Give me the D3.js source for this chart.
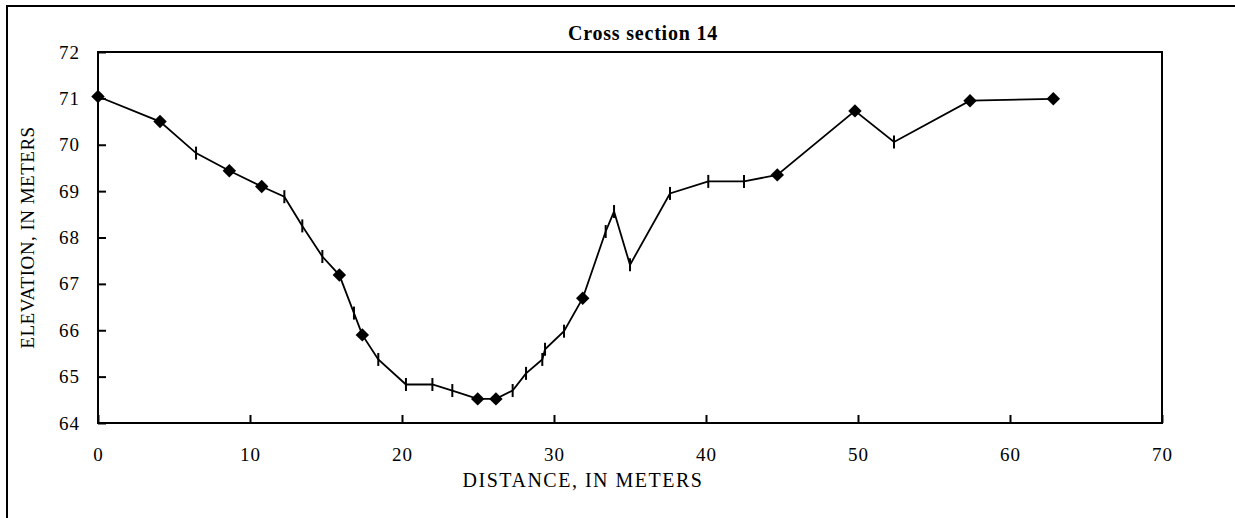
<!DOCTYPE html>
<html>
<head>
<meta charset="utf-8">
<script src="https://cdn.jsdelivr.net/npm/d3@7"></script>
<style>
  html, body { margin: 0; padding: 0; background: #fff; overflow: hidden; }
  svg { display: block; }
  text { font-family: "Liberation Serif", "Times New Roman", serif; fill: #000; }
</style>
</head>
<body>
<svg id="chart" width="1235" height="518"></svg>
<script>
// ---- data ----
const distance = [0, 4.08, 6.45, 8.64, 10.77, 12.26, 13.44, 14.76, 15.88, 16.84, 17.39, 18.44,
  20.26, 22.0, 23.31, 24.98, 26.18, 27.28, 28.16, 29.23, 29.41, 30.66, 31.89, 33.40, 33.95,
  35.0, 37.63, 40.15, 42.5, 44.69, 49.80, 52.37, 57.37, 62.85];
const elevation = [71.04, 70.50, 69.82, 69.44, 69.10, 68.88, 68.25, 67.59, 67.19, 66.37, 65.90, 65.37,
  64.83, 64.83, 64.70, 64.52, 64.52, 64.70, 65.07, 65.37, 65.59, 65.98, 66.69, 68.13, 68.56,
  67.41, 68.95, 69.21, 69.21, 69.35, 70.73, 70.06, 70.95, 70.99];
// marker type per point: "d" = diamond, "t" = vertical tick
const marker = ["d","d","t","d","d","t","t","t","d","t","d","t",
  "t","t","t","d","d","t","t","t","t","t","d","t","t",
  "t","t","t","t","d","d","t","d","d"];
const xTicks = [0, 10, 20, 30, 40, 50, 60, 70];
const yTicks = [64, 65, 66, 67, 68, 69, 70, 71, 72];
const titleText = "Cross section 14";
const xLabel = "DISTANCE, IN METERS";
const yLabel = "ELEVATION, IN METERS";

const points = distance.map((d, i) => ({ x: d, y: elevation[i], m: marker[i] }));

const svg = d3.select("#chart");
const L = 98, R = 1162, T = 52, B = 423;
const x = d3.scaleLinear().domain([0, 70]).range([L, R]);
const y = d3.scaleLinear().domain([64, 72]).range([B, T]);

// outer chart frame (only top and left edges fall inside the window)
svg.append("line").attr("x1", 6).attr("x2", 1235).attr("y1", 6).attr("y2", 6)
  .attr("stroke", "#000").attr("stroke-width", 2);
svg.append("line").attr("x1", 7).attr("x2", 7).attr("y1", 5).attr("y2", 518)
  .attr("stroke", "#000").attr("stroke-width", 2);

// title
svg.append("text").attr("x", 643).attr("y", 40).attr("text-anchor", "middle")
  .style("font-weight", "bold").style("font-size", "20px").style("letter-spacing", "0.8px")
  .text(titleText);

// axes
const xAxis = d3.axisBottom(x).tickValues(xTicks).tickSize(-8).tickPadding(25).tickFormat(d3.format("d"));
const gx = svg.append("g").attr("transform", `translate(0,${B})`).call(xAxis);
const yAxis = d3.axisLeft(y).tickValues(yTicks).tickSize(-8).tickPadding(18).tickFormat(d3.format("d"));
const gy = svg.append("g").attr("transform", `translate(${L},0)`).call(yAxis);
[gx, gy].forEach(g => {
  g.attr("font-family", null).attr("font-size", null);
  g.select(".domain").remove();
  g.selectAll(".tick line").attr("stroke", "#000").attr("stroke-width", 2);
  g.selectAll(".tick text").style("font-size", "19px").style("letter-spacing", "1px");
});

// plot frame
svg.append("rect").attr("x", L).attr("y", T).attr("width", R - L).attr("height", B - T)
  .attr("fill", "none").attr("stroke", "#000").attr("stroke-width", 2);

// axis titles
svg.append("text").attr("x", 583).attr("y", 487).attr("text-anchor", "middle")
  .style("font-size", "20px").style("letter-spacing", "1.5px").text(xLabel);
svg.append("text").attr("transform", `translate(34,${(T + B) / 2}) rotate(-90)`)
  .attr("text-anchor", "middle").style("font-size", "19px").style("letter-spacing", "0.5px")
  .text(yLabel);

// line
const line = d3.line().x(d => x(d.x)).y(d => y(d.y));
svg.append("path").datum(points).attr("d", line)
  .attr("fill", "none").attr("stroke", "#000").attr("stroke-width", 1.8);

// markers
const diamond = d3.symbol().type(d3.symbolDiamond2).size(115);
svg.selectAll("path.dia").data(points.filter(p => p.m === "d")).join("path")
  .attr("class", "dia")
  .attr("transform", d => `translate(${x(d.x)},${y(d.y)})`)
  .attr("d", diamond).attr("fill", "#000");
svg.selectAll("line.tk").data(points.filter(p => p.m === "t")).join("line")
  .attr("class", "tk")
  .attr("x1", d => x(d.x)).attr("x2", d => x(d.x))
  .attr("y1", d => y(d.y) - 6.5).attr("y2", d => y(d.y) + 6.5)
  .attr("stroke", "#000").attr("stroke-width", 2);
</script>
</body>
</html>
